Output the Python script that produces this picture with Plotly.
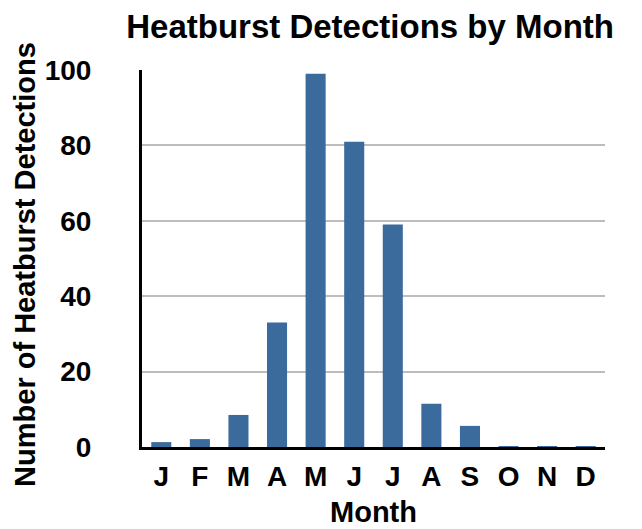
import plotly.graph_objects as go

months = ["J", "F", "M", "A", "M", "J", "J", "A", "S", "O", "N", "D"]
detections = [1.3, 2.1, 8.5, 33, 99, 81, 59, 11.5, 5.6, 0.2, 0.2, 0.2]
y_ticks = [0, 20, 40, 60, 80, 100]

FONT = "Liberation Sans"
x_idx = list(range(len(months)))

fig = go.Figure(go.Bar(
    x=x_idx, y=detections,
    marker=dict(color="#3b6b9c", line=dict(width=0)),
    width=0.52,
))

fig.update_layout(
    width=642, height=529,
    margin=dict(l=134, r=45, t=62, b=90),
    paper_bgcolor="white", plot_bgcolor="white",
    showlegend=False,
    title=dict(text="<b>Heatburst Detections by Month</b>",
               font=dict(family=FONT, size=33, color="black"),
               x=0.564, xanchor="center", y=0.965, yanchor="middle"),
    font=dict(family=FONT, color="black"),
    annotations=[dict(
        text="<b>Number of Heatburst Detections</b>",
        textangle=-90, xref="paper", yref="paper",
        x=(17 - 134) / 463, y=0.483, xanchor="center", yanchor="middle",
        showarrow=False, font=dict(family=FONT, size=29, color="black"),
    )],
)
fig.update_xaxes(
    tickmode="array", tickvals=x_idx,
    ticktext=[f"<b>{m}</b>" for m in months],
    range=[-0.5, 11.5],
    tickfont=dict(family=FONT, size=28, color="black"),
    showline=True, linecolor="black", linewidth=3,
    showgrid=False, ticks="", ticklabelstandoff=2, automargin=False,
    title=dict(text="<b>Month</b>", font=dict(family=FONT, size=29, color="black"), standoff=12),
)
fig.update_yaxes(
    range=[0, 100], tickvals=y_ticks,
    ticktext=[f"<b>{t}</b>" for t in y_ticks],
    tickfont=dict(family=FONT, size=28, color="black"),
    showline=True, linecolor="black", linewidth=3,
    showgrid=True, gridcolor="#bdbdbd", gridwidth=2,
    zeroline=False, ticks="", ticklabelstandoff=42, automargin=False,
)
fig.write_html("out.html")
